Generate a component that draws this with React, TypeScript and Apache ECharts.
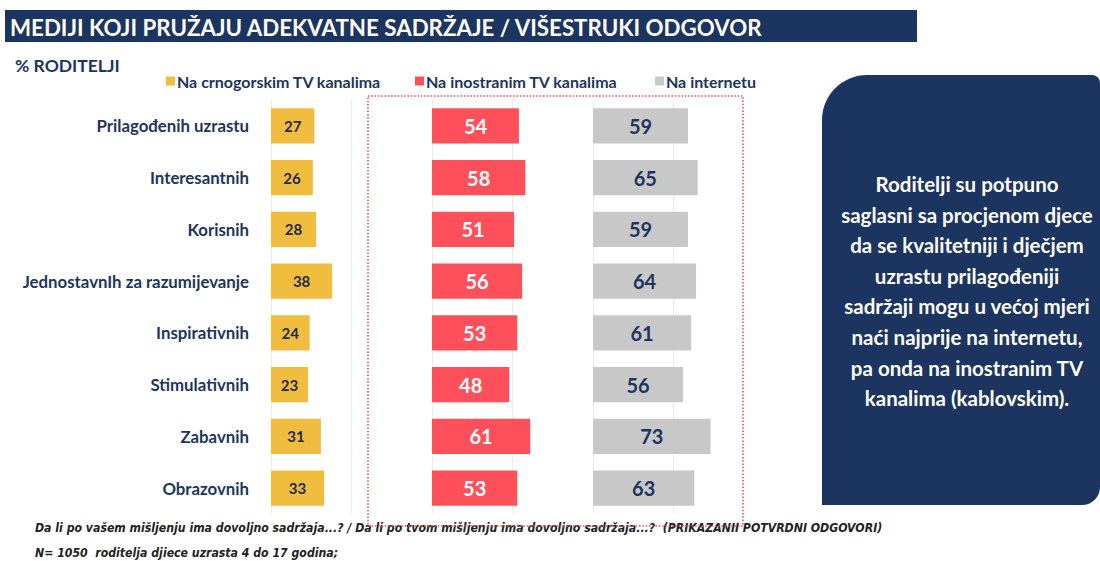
import React, { useEffect, useRef } from "react";
import * as echarts from "echarts";

const categories = [
  "Prilagođenih uzrastu",
  "Interesantnih",
  "Korisnih",
  "JednostavnIh za razumijevanje",
  "Inspirativnih",
  "Stimulativnih",
  "Zabavnih",
  "Obrazovnih",
];
const crnogorskiTV = [27, 26, 28, 38, 24, 23, 31, 33];
const inostraniTV = [54, 58, 51, 56, 53, 48, 61, 53];
const internet = [59, 65, 59, 64, 61, 56, 73, 63];
const seriesNames = ["Na crnogorskim TV kanalima", "Na inostranim TV kanalima", "Na internetu"];

const titleText = "MEDIJI KOJI PRUŽAJU ADEKVATNE SADRŽAJE / VIŠESTRUKI ODGOVOR";
const subtitleText = "% RODITELJI";
const boxLines = [
  "Roditelji su potpuno",
  "saglasni sa procjenom djece",
  "da se kvalitetniji i dječjem",
  "uzrastu prilagođeniji",
  "sadržaji mogu u većoj mjeri",
  "naći najprije na internetu,",
  "pa onda na inostranim TV",
  "kanalima (kablovskim).",
];
const footLine1 =
  "Da li po vašem mišljenju ima dovoljno sadržaja...? / Da li po tvom mišljenju ima dovoljno sadržaja...?  (PRIKAZANII POTVRDNI ODGOVORI)";
const footLine2 = "N= 1050  roditelja djiece uzrasta 4 do 17 godina;";

const NAVY = "#1c3560";
const FONT = "Lato, 'Open Sans', sans-serif";
const FOOT_FONT = "italic bold 12.2px 'Liberation Sans Narrow', 'DejaVu Sans Condensed', sans-serif";

export default function App() {
  const ref = useRef<HTMLDivElement>(null);
  useEffect(() => {
    document.body.style.margin = "0";
    const chart = echarts.init(ref.current!, null, { renderer: "svg" });
    const lefts = [271, 432, 593];
    const legendLefts = [161, 410, 650];
    const colors = ["#f0bd3e", "#fe505a", "#c8c8c8"];
    const labelColors = ["#1f2a44", "#ffffff", NAVY];
    const labelSizes = [15, 20, 20];
    const datas = [crnogorskiTV, inostraniTV, internet];

    const grids = lefts.map((l) => ({ left: l, top: 100, width: 161, height: 414 }));
    const xAxes = lefts.map((_, i) => ({
      type: "value",
      gridIndex: i,
      min: 0,
      max: 100,
      interval: 50,
      axisLabel: { show: false },
      axisLine: { show: false },
      axisTick: { show: false },
      splitLine: {
        show: true,
        lineStyle: {
          color: i === 2 ? ["#ececec", "#ececec", "rgba(0,0,0,0)"] : "#ececec",
          width: 1,
        },
      },
    }));
    const yAxes = lefts.map((_, i) => ({
      type: "category",
      gridIndex: i,
      data: categories,
      inverse: true,
      axisLine: { show: false },
      axisTick: { show: false },
      axisLabel: {
        show: i === 0,
        margin: 22,
        color: NAVY,
        fontFamily: FONT,
        fontWeight: "bold",
        fontSize: 16.8,
      },
    }));
    const series = datas.map((d, i) => ({
      type: "bar",
      name: seriesNames[i],
      xAxisIndex: i,
      yAxisIndex: i,
      data: d,
      barCategoryGap: "32%",
      itemStyle: { color: colors[i] },
      label: {
        show: true,
        position: "inside",
        color: labelColors[i],
        fontFamily: FONT,
        fontWeight: "bold",
        fontSize: labelSizes[i],
      },
    }));

    const legends = seriesNames.map((n, i) => ({
      left: legendLefts[i],
      top: 68,
      itemWidth: 9,
      itemHeight: 9,
      icon: "rect",
      data: [n],
      selectedMode: false,
      textStyle: { color: NAVY, fontFamily: FONT, fontWeight: "bold", fontSize: 16, padding: [0, 0, 0, -3] },
    }));

    const boxGraphics = boxLines.map((t, i) => ({
      type: "text",
      x: 967,
      y: 184 + i * 30.6,
      style: {
        text: t,
        textAlign: "center",
        textVerticalAlign: "middle",
        fill: "#ffffff",
        font: `bold 20.5px ${FONT}`,
      },
    }));

    chart.setOption({
      animation: false,
      backgroundColor: "#ffffff",
      grid: grids,
      xAxis: xAxes,
      yAxis: yAxes,
      series,
      legend: legends,
      graphic: [
        {
          type: "rect",
          shape: { x: 5, y: 10, width: 912, height: 32 },
          style: { fill: NAVY },
        },
        {
          type: "text",
          x: 10,
          y: 27,
          style: { text: titleText, fill: "#ffffff", font: `bold 22.3px ${FONT}`, textVerticalAlign: "middle" },
        },
        {
          type: "text",
          x: 15,
          y: 65,
          style: { text: subtitleText, fill: NAVY, font: `bold 17.5px ${FONT}`, textVerticalAlign: "middle" },
        },
        {
          type: "rect",
          shape: { x: 368, y: 96, width: 375, height: 430 },
          style: { fill: "none", stroke: "#e8505b", lineWidth: 1.6, lineDash: [1.5, 1.8] },
          z: 10,
        },
        {
          type: "rect",
          shape: { x: 822, y: 75, width: 278, height: 430, r: [45, 8, 18, 0] },
          style: { fill: NAVY },
        },
        ...boxGraphics,
        {
          type: "text",
          x: 35,
          y: 528,
          style: { text: footLine1, fill: "#222222", font: FOOT_FONT, textVerticalAlign: "middle" },
        },
        {
          type: "text",
          x: 35,
          y: 553,
          style: { text: footLine2, fill: "#222222", font: FOOT_FONT, textVerticalAlign: "middle" },
        },
      ],
    });
    return () => chart.dispose();
  }, []);
  return <div ref={ref} style={{ width: 1100, height: 561 }} />;
}
